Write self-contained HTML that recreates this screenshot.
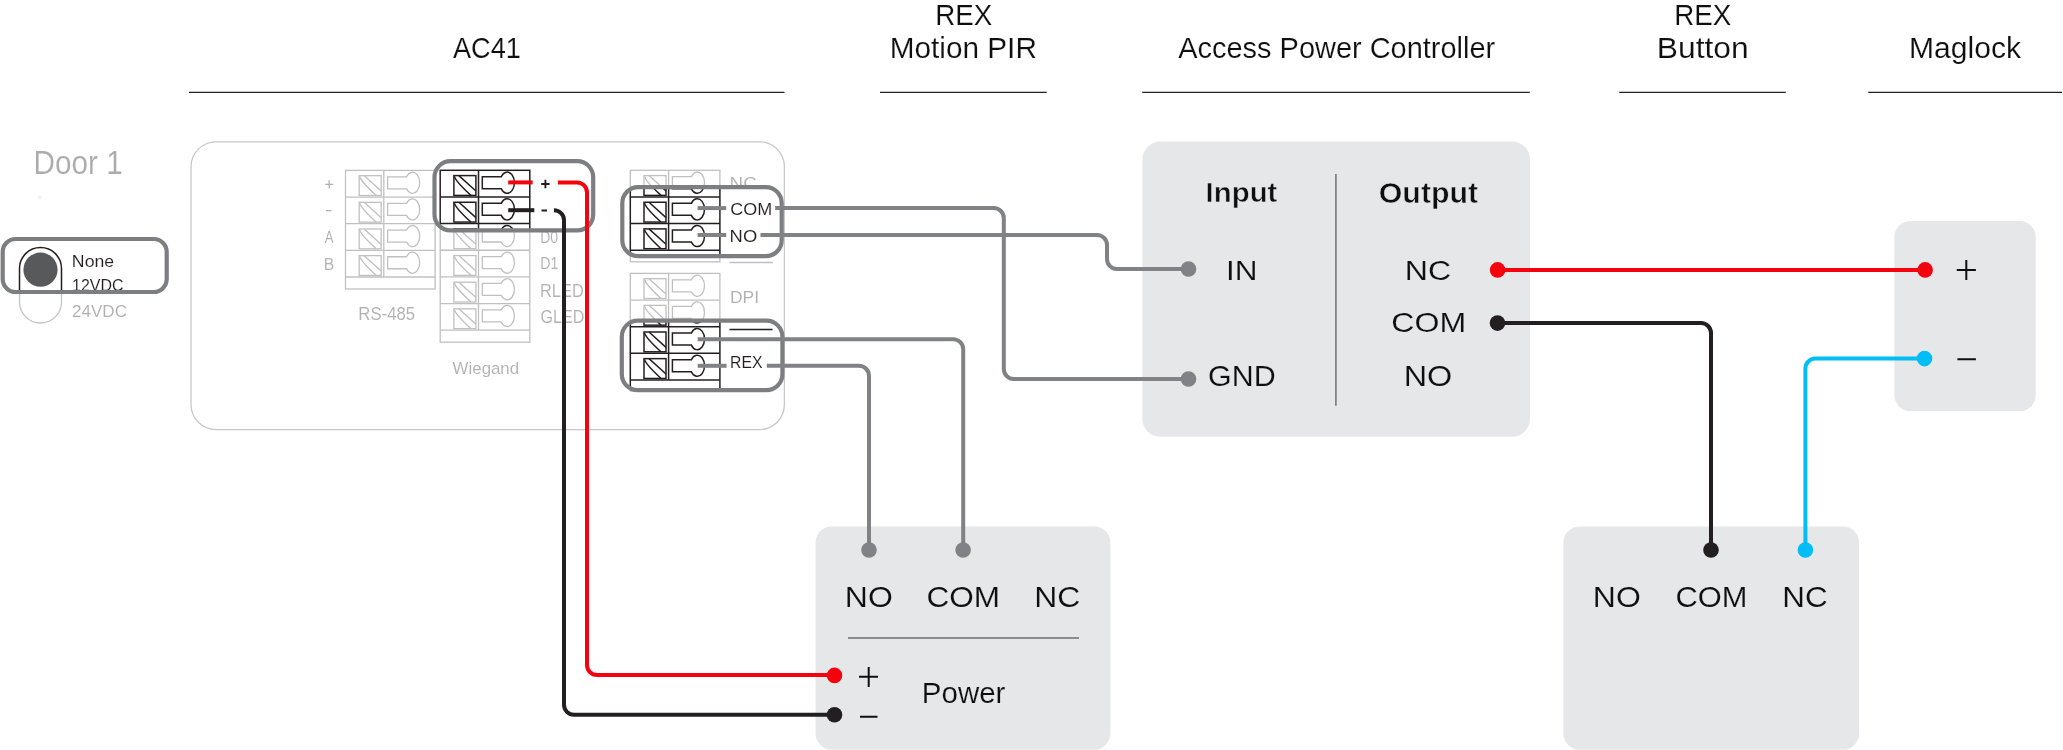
<!DOCTYPE html><html><head><meta charset="utf-8"><style>html,body{margin:0;padding:0;background:#fff;}svg{display:block;will-change:transform;}</style></head><body>
<svg width="2063" height="750" viewBox="0 0 2063 750" font-family='"Liberation Sans", sans-serif'>
<defs><clipPath id="hl"><rect x="2.7" y="239" width="164.00" height="53.00" rx="13"/><rect x="434.5" y="161.2" width="158.70" height="69.20" rx="16"/><rect x="622.3" y="187.1" width="159.40" height="69.10" rx="16"/><rect x="621.8" y="320.7" width="160.60" height="69.50" rx="16"/></clipPath></defs>
<rect width="2063" height="750" fill="#fff"/>
<text x="453.00" y="58.10" font-size="30.00" fill="#0f0f0f" font-weight="normal" textLength="67.86" lengthAdjust="spacingAndGlyphs" stroke="#fff" stroke-width="0.15">AC41</text>
<text x="935.18" y="25.00" font-size="29.71" fill="#0f0f0f" font-weight="normal" textLength="57.01" lengthAdjust="spacingAndGlyphs" stroke="#fff" stroke-width="0.15">REX</text>
<text x="889.72" y="57.90" font-size="29.86" fill="#0f0f0f" font-weight="normal" textLength="147.16" lengthAdjust="spacingAndGlyphs" stroke="#fff" stroke-width="0.15">Motion PIR</text>
<text x="1178.20" y="58.00" font-size="29.13" fill="#0f0f0f" font-weight="normal" textLength="317.04" lengthAdjust="spacingAndGlyphs" stroke="#fff" stroke-width="0.15">Access Power Controller</text>
<text x="1674.28" y="24.80" font-size="28.99" fill="#0f0f0f" font-weight="normal" textLength="57.01" lengthAdjust="spacingAndGlyphs" stroke="#fff" stroke-width="0.14">REX</text>
<text x="1656.86" y="57.80" font-size="28.99" fill="#0f0f0f" font-weight="normal" textLength="91.84" lengthAdjust="spacingAndGlyphs" stroke="#fff" stroke-width="0.14">Button</text>
<text x="1908.99" y="57.80" font-size="28.99" fill="#0f0f0f" font-weight="normal" textLength="111.97" lengthAdjust="spacingAndGlyphs" stroke="#fff" stroke-width="0.14">Maglock</text>
<line x1="189" y1="92.4" x2="784.5" y2="92.4" stroke="#231f20" stroke-width="1.3"/>
<line x1="880" y1="92.4" x2="1046.7" y2="92.4" stroke="#231f20" stroke-width="1.3"/>
<line x1="1142.2" y1="92.4" x2="1529.8" y2="92.4" stroke="#231f20" stroke-width="1.3"/>
<line x1="1619.3" y1="92.4" x2="1785.8" y2="92.4" stroke="#231f20" stroke-width="1.3"/>
<line x1="1868.3" y1="92.4" x2="2062" y2="92.4" stroke="#231f20" stroke-width="1.3"/>
<text x="33.52" y="173.60" font-size="32.75" fill="#acacac" font-weight="normal" textLength="89.16" lengthAdjust="spacingAndGlyphs" stroke="#fff" stroke-width="0.15">Door 1</text>
<rect x="191" y="141.8" width="593.4" height="287.8" rx="25" fill="none" stroke="#c8c8c8" stroke-width="1.3"/>
<g><rect x="19.5" y="247.5" width="42" height="75.5" rx="21" fill="none" stroke="#c4c4c4" stroke-width="1.3"/>
<rect x="345.5" y="170.4" width="89.6" height="118.60" fill="none" stroke="#c0c0c0" stroke-width="1.3"/>
<line x1="345.5" y1="197.05" x2="435.1" y2="197.05" stroke="#c0c0c0" stroke-width="1.3"/>
<line x1="345.5" y1="223.70" x2="435.1" y2="223.70" stroke="#c0c0c0" stroke-width="1.3"/>
<line x1="345.5" y1="250.35" x2="435.1" y2="250.35" stroke="#c0c0c0" stroke-width="1.3"/>
<line x1="345.5" y1="277.00" x2="435.1" y2="277.00" stroke="#c0c0c0" stroke-width="1.3"/>
<line x1="383.80" y1="170.4" x2="383.80" y2="277.00" stroke="#c0c0c0" stroke-width="1.3"/>
<rect x="359.20" y="175.70" width="22" height="19.8" fill="none" stroke="#c0c0c0" stroke-width="1.3"/>
<path d="M364.20,175.70 L381.20,191.10 M359.70,176.50 Q360.70,181.20 376.20,195.50" fill="none" stroke="#c0c0c0" stroke-width="1.3"/>
<path d="M387.60,176.80 H406.57 A7.2,10.6 0 1 1 406.57,188.80 H387.60 Z" fill="none" stroke="#c0c0c0" stroke-width="1.3"/>
<rect x="359.20" y="202.35" width="22" height="19.8" fill="none" stroke="#c0c0c0" stroke-width="1.3"/>
<path d="M364.20,202.35 L381.20,217.75 M359.70,203.15 Q360.70,207.85 376.20,222.15" fill="none" stroke="#c0c0c0" stroke-width="1.3"/>
<path d="M387.60,203.45 H406.57 A7.2,10.6 0 1 1 406.57,215.45 H387.60 Z" fill="none" stroke="#c0c0c0" stroke-width="1.3"/>
<rect x="359.20" y="229.00" width="22" height="19.8" fill="none" stroke="#c0c0c0" stroke-width="1.3"/>
<path d="M364.20,229.00 L381.20,244.40 M359.70,229.80 Q360.70,234.50 376.20,248.80" fill="none" stroke="#c0c0c0" stroke-width="1.3"/>
<path d="M387.60,230.10 H406.57 A7.2,10.6 0 1 1 406.57,242.10 H387.60 Z" fill="none" stroke="#c0c0c0" stroke-width="1.3"/>
<rect x="359.20" y="255.65" width="22" height="19.8" fill="none" stroke="#c0c0c0" stroke-width="1.3"/>
<path d="M364.20,255.65 L381.20,271.05 M359.70,256.45 Q360.70,261.15 376.20,275.45" fill="none" stroke="#c0c0c0" stroke-width="1.3"/>
<path d="M387.60,256.75 H406.57 A7.2,10.6 0 1 1 406.57,268.75 H387.60 Z" fill="none" stroke="#c0c0c0" stroke-width="1.3"/>
<rect x="440.2" y="170.3" width="89.6" height="171.90" fill="none" stroke="#c0c0c0" stroke-width="1.3"/>
<line x1="440.2" y1="196.95" x2="529.8" y2="196.95" stroke="#c0c0c0" stroke-width="1.3"/>
<line x1="440.2" y1="223.60" x2="529.8" y2="223.60" stroke="#c0c0c0" stroke-width="1.3"/>
<line x1="440.2" y1="250.25" x2="529.8" y2="250.25" stroke="#c0c0c0" stroke-width="1.3"/>
<line x1="440.2" y1="276.90" x2="529.8" y2="276.90" stroke="#c0c0c0" stroke-width="1.3"/>
<line x1="440.2" y1="303.55" x2="529.8" y2="303.55" stroke="#c0c0c0" stroke-width="1.3"/>
<line x1="440.2" y1="330.20" x2="529.8" y2="330.20" stroke="#c0c0c0" stroke-width="1.3"/>
<line x1="478.50" y1="170.3" x2="478.50" y2="330.20" stroke="#c0c0c0" stroke-width="1.3"/>
<rect x="453.90" y="175.60" width="22" height="19.8" fill="none" stroke="#c0c0c0" stroke-width="1.3"/>
<path d="M458.90,175.60 L475.90,191.00 M454.40,176.40 Q455.40,181.10 470.90,195.40" fill="none" stroke="#c0c0c0" stroke-width="1.3"/>
<path d="M482.30,176.70 H501.27 A7.2,10.6 0 1 1 501.27,188.70 H482.30 Z" fill="none" stroke="#c0c0c0" stroke-width="1.3"/>
<rect x="453.90" y="202.25" width="22" height="19.8" fill="none" stroke="#c0c0c0" stroke-width="1.3"/>
<path d="M458.90,202.25 L475.90,217.65 M454.40,203.05 Q455.40,207.75 470.90,222.05" fill="none" stroke="#c0c0c0" stroke-width="1.3"/>
<path d="M482.30,203.35 H501.27 A7.2,10.6 0 1 1 501.27,215.35 H482.30 Z" fill="none" stroke="#c0c0c0" stroke-width="1.3"/>
<rect x="453.90" y="228.90" width="22" height="19.8" fill="none" stroke="#c0c0c0" stroke-width="1.3"/>
<path d="M458.90,228.90 L475.90,244.30 M454.40,229.70 Q455.40,234.40 470.90,248.70" fill="none" stroke="#c0c0c0" stroke-width="1.3"/>
<path d="M482.30,230.00 H501.27 A7.2,10.6 0 1 1 501.27,242.00 H482.30 Z" fill="none" stroke="#c0c0c0" stroke-width="1.3"/>
<rect x="453.90" y="255.55" width="22" height="19.8" fill="none" stroke="#c0c0c0" stroke-width="1.3"/>
<path d="M458.90,255.55 L475.90,270.95 M454.40,256.35 Q455.40,261.05 470.90,275.35" fill="none" stroke="#c0c0c0" stroke-width="1.3"/>
<path d="M482.30,256.65 H501.27 A7.2,10.6 0 1 1 501.27,268.65 H482.30 Z" fill="none" stroke="#c0c0c0" stroke-width="1.3"/>
<rect x="453.90" y="282.20" width="22" height="19.8" fill="none" stroke="#c0c0c0" stroke-width="1.3"/>
<path d="M458.90,282.20 L475.90,297.60 M454.40,283.00 Q455.40,287.70 470.90,302.00" fill="none" stroke="#c0c0c0" stroke-width="1.3"/>
<path d="M482.30,283.30 H501.27 A7.2,10.6 0 1 1 501.27,295.30 H482.30 Z" fill="none" stroke="#c0c0c0" stroke-width="1.3"/>
<rect x="453.90" y="308.85" width="22" height="19.8" fill="none" stroke="#c0c0c0" stroke-width="1.3"/>
<path d="M458.90,308.85 L475.90,324.25 M454.40,309.65 Q455.40,314.35 470.90,328.65" fill="none" stroke="#c0c0c0" stroke-width="1.3"/>
<path d="M482.30,309.95 H501.27 A7.2,10.6 0 1 1 501.27,321.95 H482.30 Z" fill="none" stroke="#c0c0c0" stroke-width="1.3"/>
<rect x="630.3" y="170.3" width="89.6" height="91.55" fill="none" stroke="#c0c0c0" stroke-width="1.3"/>
<line x1="630.3" y1="196.95" x2="719.9" y2="196.95" stroke="#c0c0c0" stroke-width="1.3"/>
<line x1="630.3" y1="223.60" x2="719.9" y2="223.60" stroke="#c0c0c0" stroke-width="1.3"/>
<line x1="630.3" y1="250.25" x2="719.9" y2="250.25" stroke="#c0c0c0" stroke-width="1.3"/>
<line x1="668.60" y1="170.3" x2="668.60" y2="250.25" stroke="#c0c0c0" stroke-width="1.3"/>
<rect x="644.00" y="175.60" width="22" height="19.8" fill="none" stroke="#c0c0c0" stroke-width="1.3"/>
<path d="M649.00,175.60 L666.00,191.00 M644.50,176.40 Q645.50,181.10 661.00,195.40" fill="none" stroke="#c0c0c0" stroke-width="1.3"/>
<path d="M672.40,176.70 H691.37 A7.2,10.6 0 1 1 691.37,188.70 H672.40 Z" fill="none" stroke="#c0c0c0" stroke-width="1.3"/>
<rect x="644.00" y="202.25" width="22" height="19.8" fill="none" stroke="#c0c0c0" stroke-width="1.3"/>
<path d="M649.00,202.25 L666.00,217.65 M644.50,203.05 Q645.50,207.75 661.00,222.05" fill="none" stroke="#c0c0c0" stroke-width="1.3"/>
<path d="M672.40,203.35 H691.37 A7.2,10.6 0 1 1 691.37,215.35 H672.40 Z" fill="none" stroke="#c0c0c0" stroke-width="1.3"/>
<rect x="644.00" y="228.90" width="22" height="19.8" fill="none" stroke="#c0c0c0" stroke-width="1.3"/>
<path d="M649.00,228.90 L666.00,244.30 M644.50,229.70 Q645.50,234.40 661.00,248.70" fill="none" stroke="#c0c0c0" stroke-width="1.3"/>
<path d="M672.40,230.00 H691.37 A7.2,10.6 0 1 1 691.37,242.00 H672.40 Z" fill="none" stroke="#c0c0c0" stroke-width="1.3"/>
<rect x="630.3" y="273.4" width="89.6" height="117.60" fill="none" stroke="#c0c0c0" stroke-width="1.3"/>
<line x1="630.3" y1="300.05" x2="719.9" y2="300.05" stroke="#c0c0c0" stroke-width="1.3"/>
<line x1="630.3" y1="326.70" x2="719.9" y2="326.70" stroke="#c0c0c0" stroke-width="1.3"/>
<line x1="630.3" y1="353.35" x2="719.9" y2="353.35" stroke="#c0c0c0" stroke-width="1.3"/>
<line x1="630.3" y1="380.00" x2="719.9" y2="380.00" stroke="#c0c0c0" stroke-width="1.3"/>
<line x1="668.60" y1="273.4" x2="668.60" y2="380.00" stroke="#c0c0c0" stroke-width="1.3"/>
<rect x="644.00" y="278.70" width="22" height="19.8" fill="none" stroke="#c0c0c0" stroke-width="1.3"/>
<path d="M649.00,278.70 L666.00,294.10 M644.50,279.50 Q645.50,284.20 661.00,298.50" fill="none" stroke="#c0c0c0" stroke-width="1.3"/>
<path d="M672.40,279.80 H691.37 A7.2,10.6 0 1 1 691.37,291.80 H672.40 Z" fill="none" stroke="#c0c0c0" stroke-width="1.3"/>
<rect x="644.00" y="305.35" width="22" height="19.8" fill="none" stroke="#c0c0c0" stroke-width="1.3"/>
<path d="M649.00,305.35 L666.00,320.75 M644.50,306.15 Q645.50,310.85 661.00,325.15" fill="none" stroke="#c0c0c0" stroke-width="1.3"/>
<path d="M672.40,306.45 H691.37 A7.2,10.6 0 1 1 691.37,318.45 H672.40 Z" fill="none" stroke="#c0c0c0" stroke-width="1.3"/>
<rect x="644.00" y="332.00" width="22" height="19.8" fill="none" stroke="#c0c0c0" stroke-width="1.3"/>
<path d="M649.00,332.00 L666.00,347.40 M644.50,332.80 Q645.50,337.50 661.00,351.80" fill="none" stroke="#c0c0c0" stroke-width="1.3"/>
<path d="M672.40,333.10 H691.37 A7.2,10.6 0 1 1 691.37,345.10 H672.40 Z" fill="none" stroke="#c0c0c0" stroke-width="1.3"/>
<rect x="644.00" y="358.65" width="22" height="19.8" fill="none" stroke="#c0c0c0" stroke-width="1.3"/>
<path d="M649.00,358.65 L666.00,374.05 M644.50,359.45 Q645.50,364.15 661.00,378.45" fill="none" stroke="#c0c0c0" stroke-width="1.3"/>
<path d="M672.40,359.75 H691.37 A7.2,10.6 0 1 1 691.37,371.75 H672.40 Z" fill="none" stroke="#c0c0c0" stroke-width="1.3"/>
<line x1="729.5" y1="262.5" x2="773" y2="262.5" stroke="#c0c0c0" stroke-width="1.3"/>
<line x1="729.5" y1="329.6" x2="772.5" y2="329.6" stroke="#c0c0c0" stroke-width="1.3"/><text x="71.89" y="266.70" font-size="17.39" fill="#b0b0b0" font-weight="normal" textLength="42.22" lengthAdjust="spacingAndGlyphs" stroke="#fff" stroke-width="0.09">None</text>
<text x="72.10" y="291.30" font-size="17.39" fill="#b0b0b0" font-weight="normal" textLength="51.41" lengthAdjust="spacingAndGlyphs" stroke="#fff" stroke-width="0.09">12VDC</text>
<text x="72.05" y="316.70" font-size="16.52" fill="#b0b0b0" font-weight="normal" textLength="54.91" lengthAdjust="spacingAndGlyphs" stroke="#fff" stroke-width="0.08">24VDC</text>
<text x="324.80" y="243.20" font-size="17.39" fill="#b0b0b0" font-weight="normal" textLength="8.83" lengthAdjust="spacingAndGlyphs" stroke="#fff" stroke-width="0.09">A</text>
<text x="323.74" y="269.60" font-size="16.81" fill="#b0b0b0" font-weight="normal" textLength="10.47" lengthAdjust="spacingAndGlyphs" stroke="#fff" stroke-width="0.08">B</text>
<text x="358.36" y="319.70" font-size="17.97" fill="#b0b0b0" font-weight="normal" textLength="56.72" lengthAdjust="spacingAndGlyphs" stroke="#fff" stroke-width="0.09">RS-485</text>
<text x="452.62" y="374.20" font-size="17.10" fill="#b0b0b0" font-weight="normal" textLength="66.51" lengthAdjust="spacingAndGlyphs" stroke="#fff" stroke-width="0.09">Wiegand</text>
<text x="540.18" y="243.00" font-size="17.39" fill="#b0b0b0" font-weight="normal" textLength="17.96" lengthAdjust="spacingAndGlyphs" stroke="#fff" stroke-width="0.09">D0</text>
<text x="540.17" y="269.40" font-size="17.39" fill="#b0b0b0" font-weight="normal" textLength="18.12" lengthAdjust="spacingAndGlyphs" stroke="#fff" stroke-width="0.09">D1</text>
<text x="539.99" y="296.60" font-size="17.97" fill="#b0b0b0" font-weight="normal" textLength="43.79" lengthAdjust="spacingAndGlyphs" stroke="#fff" stroke-width="0.09">RLED</text>
<text x="540.50" y="323.00" font-size="17.83" fill="#b0b0b0" font-weight="normal" textLength="43.78" lengthAdjust="spacingAndGlyphs" stroke="#fff" stroke-width="0.09">GLED</text>
<text x="729.60" y="189.00" font-size="16.52" fill="#b0b0b0" font-weight="normal" textLength="27.14" lengthAdjust="spacingAndGlyphs" stroke="#fff" stroke-width="0.08">NC</text>
<text x="730.20" y="215.40" font-size="16.23" fill="#b0b0b0" font-weight="normal" textLength="41.99" lengthAdjust="spacingAndGlyphs" stroke="#fff" stroke-width="0.08">COM</text>
<text x="729.63" y="242.20" font-size="16.23" fill="#b0b0b0" font-weight="normal" textLength="27.59" lengthAdjust="spacingAndGlyphs" stroke="#fff" stroke-width="0.08">NO</text>
<text x="729.90" y="302.90" font-size="16.23" fill="#b0b0b0" font-weight="normal" textLength="29.10" lengthAdjust="spacingAndGlyphs" stroke="#fff" stroke-width="0.08">DPI</text>
<text x="730.04" y="367.90" font-size="16.23" fill="#b0b0b0" font-weight="normal" textLength="32.40" lengthAdjust="spacingAndGlyphs" stroke="#fff" stroke-width="0.08">REX</text>
<path d="M325.2,184.3 H333.2 M329.2,180.3 V188.3 M326,210.6 H331.5" stroke="#b0b0b0" stroke-width="1.3" fill="none"/>
<path d="M541.2,184 H549.6 M545.4,179.8 V188.2 M541.5,210.5 H547" stroke="#b0b0b0" stroke-width="1.9" fill="none"/></g>
<g clip-path="url(#hl)"><rect x="0" y="150" width="800" height="260" fill="#fff"/><rect x="19.5" y="247.5" width="42" height="75.5" rx="21" fill="none" stroke="#231f20" stroke-width="1.5"/>
<rect x="345.5" y="170.4" width="89.6" height="118.60" fill="none" stroke="#231f20" stroke-width="1.5"/>
<line x1="345.5" y1="197.05" x2="435.1" y2="197.05" stroke="#231f20" stroke-width="1.5"/>
<line x1="345.5" y1="223.70" x2="435.1" y2="223.70" stroke="#231f20" stroke-width="1.5"/>
<line x1="345.5" y1="250.35" x2="435.1" y2="250.35" stroke="#231f20" stroke-width="1.5"/>
<line x1="345.5" y1="277.00" x2="435.1" y2="277.00" stroke="#231f20" stroke-width="1.5"/>
<line x1="383.80" y1="170.4" x2="383.80" y2="277.00" stroke="#231f20" stroke-width="1.5"/>
<rect x="359.20" y="175.70" width="22" height="19.8" fill="none" stroke="#231f20" stroke-width="1.5"/>
<path d="M364.20,175.70 L381.20,191.10 M359.70,176.50 Q360.70,181.20 376.20,195.50" fill="none" stroke="#231f20" stroke-width="1.5"/>
<path d="M387.60,176.80 H406.57 A7.2,10.6 0 1 1 406.57,188.80 H387.60 Z" fill="none" stroke="#231f20" stroke-width="1.5"/>
<rect x="359.20" y="202.35" width="22" height="19.8" fill="none" stroke="#231f20" stroke-width="1.5"/>
<path d="M364.20,202.35 L381.20,217.75 M359.70,203.15 Q360.70,207.85 376.20,222.15" fill="none" stroke="#231f20" stroke-width="1.5"/>
<path d="M387.60,203.45 H406.57 A7.2,10.6 0 1 1 406.57,215.45 H387.60 Z" fill="none" stroke="#231f20" stroke-width="1.5"/>
<rect x="359.20" y="229.00" width="22" height="19.8" fill="none" stroke="#231f20" stroke-width="1.5"/>
<path d="M364.20,229.00 L381.20,244.40 M359.70,229.80 Q360.70,234.50 376.20,248.80" fill="none" stroke="#231f20" stroke-width="1.5"/>
<path d="M387.60,230.10 H406.57 A7.2,10.6 0 1 1 406.57,242.10 H387.60 Z" fill="none" stroke="#231f20" stroke-width="1.5"/>
<rect x="359.20" y="255.65" width="22" height="19.8" fill="none" stroke="#231f20" stroke-width="1.5"/>
<path d="M364.20,255.65 L381.20,271.05 M359.70,256.45 Q360.70,261.15 376.20,275.45" fill="none" stroke="#231f20" stroke-width="1.5"/>
<path d="M387.60,256.75 H406.57 A7.2,10.6 0 1 1 406.57,268.75 H387.60 Z" fill="none" stroke="#231f20" stroke-width="1.5"/>
<rect x="440.2" y="170.3" width="89.6" height="171.90" fill="none" stroke="#231f20" stroke-width="1.5"/>
<line x1="440.2" y1="196.95" x2="529.8" y2="196.95" stroke="#231f20" stroke-width="1.5"/>
<line x1="440.2" y1="223.60" x2="529.8" y2="223.60" stroke="#231f20" stroke-width="1.5"/>
<line x1="440.2" y1="250.25" x2="529.8" y2="250.25" stroke="#231f20" stroke-width="1.5"/>
<line x1="440.2" y1="276.90" x2="529.8" y2="276.90" stroke="#231f20" stroke-width="1.5"/>
<line x1="440.2" y1="303.55" x2="529.8" y2="303.55" stroke="#231f20" stroke-width="1.5"/>
<line x1="440.2" y1="330.20" x2="529.8" y2="330.20" stroke="#231f20" stroke-width="1.5"/>
<line x1="478.50" y1="170.3" x2="478.50" y2="330.20" stroke="#231f20" stroke-width="1.5"/>
<rect x="453.90" y="175.60" width="22" height="19.8" fill="none" stroke="#231f20" stroke-width="1.5"/>
<path d="M458.90,175.60 L475.90,191.00 M454.40,176.40 Q455.40,181.10 470.90,195.40" fill="none" stroke="#231f20" stroke-width="1.5"/>
<path d="M482.30,176.70 H501.27 A7.2,10.6 0 1 1 501.27,188.70 H482.30 Z" fill="none" stroke="#231f20" stroke-width="1.5"/>
<rect x="453.90" y="202.25" width="22" height="19.8" fill="none" stroke="#231f20" stroke-width="1.5"/>
<path d="M458.90,202.25 L475.90,217.65 M454.40,203.05 Q455.40,207.75 470.90,222.05" fill="none" stroke="#231f20" stroke-width="1.5"/>
<path d="M482.30,203.35 H501.27 A7.2,10.6 0 1 1 501.27,215.35 H482.30 Z" fill="none" stroke="#231f20" stroke-width="1.5"/>
<rect x="453.90" y="228.90" width="22" height="19.8" fill="none" stroke="#231f20" stroke-width="1.5"/>
<path d="M458.90,228.90 L475.90,244.30 M454.40,229.70 Q455.40,234.40 470.90,248.70" fill="none" stroke="#231f20" stroke-width="1.5"/>
<path d="M482.30,230.00 H501.27 A7.2,10.6 0 1 1 501.27,242.00 H482.30 Z" fill="none" stroke="#231f20" stroke-width="1.5"/>
<rect x="453.90" y="255.55" width="22" height="19.8" fill="none" stroke="#231f20" stroke-width="1.5"/>
<path d="M458.90,255.55 L475.90,270.95 M454.40,256.35 Q455.40,261.05 470.90,275.35" fill="none" stroke="#231f20" stroke-width="1.5"/>
<path d="M482.30,256.65 H501.27 A7.2,10.6 0 1 1 501.27,268.65 H482.30 Z" fill="none" stroke="#231f20" stroke-width="1.5"/>
<rect x="453.90" y="282.20" width="22" height="19.8" fill="none" stroke="#231f20" stroke-width="1.5"/>
<path d="M458.90,282.20 L475.90,297.60 M454.40,283.00 Q455.40,287.70 470.90,302.00" fill="none" stroke="#231f20" stroke-width="1.5"/>
<path d="M482.30,283.30 H501.27 A7.2,10.6 0 1 1 501.27,295.30 H482.30 Z" fill="none" stroke="#231f20" stroke-width="1.5"/>
<rect x="453.90" y="308.85" width="22" height="19.8" fill="none" stroke="#231f20" stroke-width="1.5"/>
<path d="M458.90,308.85 L475.90,324.25 M454.40,309.65 Q455.40,314.35 470.90,328.65" fill="none" stroke="#231f20" stroke-width="1.5"/>
<path d="M482.30,309.95 H501.27 A7.2,10.6 0 1 1 501.27,321.95 H482.30 Z" fill="none" stroke="#231f20" stroke-width="1.5"/>
<rect x="630.3" y="170.3" width="89.6" height="91.55" fill="none" stroke="#231f20" stroke-width="1.5"/>
<line x1="630.3" y1="196.95" x2="719.9" y2="196.95" stroke="#231f20" stroke-width="1.5"/>
<line x1="630.3" y1="223.60" x2="719.9" y2="223.60" stroke="#231f20" stroke-width="1.5"/>
<line x1="630.3" y1="250.25" x2="719.9" y2="250.25" stroke="#231f20" stroke-width="1.5"/>
<line x1="668.60" y1="170.3" x2="668.60" y2="250.25" stroke="#231f20" stroke-width="1.5"/>
<rect x="644.00" y="175.60" width="22" height="19.8" fill="none" stroke="#231f20" stroke-width="1.5"/>
<path d="M649.00,175.60 L666.00,191.00 M644.50,176.40 Q645.50,181.10 661.00,195.40" fill="none" stroke="#231f20" stroke-width="1.5"/>
<path d="M672.40,176.70 H691.37 A7.2,10.6 0 1 1 691.37,188.70 H672.40 Z" fill="none" stroke="#231f20" stroke-width="1.5"/>
<rect x="644.00" y="202.25" width="22" height="19.8" fill="none" stroke="#231f20" stroke-width="1.5"/>
<path d="M649.00,202.25 L666.00,217.65 M644.50,203.05 Q645.50,207.75 661.00,222.05" fill="none" stroke="#231f20" stroke-width="1.5"/>
<path d="M672.40,203.35 H691.37 A7.2,10.6 0 1 1 691.37,215.35 H672.40 Z" fill="none" stroke="#231f20" stroke-width="1.5"/>
<rect x="644.00" y="228.90" width="22" height="19.8" fill="none" stroke="#231f20" stroke-width="1.5"/>
<path d="M649.00,228.90 L666.00,244.30 M644.50,229.70 Q645.50,234.40 661.00,248.70" fill="none" stroke="#231f20" stroke-width="1.5"/>
<path d="M672.40,230.00 H691.37 A7.2,10.6 0 1 1 691.37,242.00 H672.40 Z" fill="none" stroke="#231f20" stroke-width="1.5"/>
<rect x="630.3" y="273.4" width="89.6" height="117.60" fill="none" stroke="#231f20" stroke-width="1.5"/>
<line x1="630.3" y1="300.05" x2="719.9" y2="300.05" stroke="#231f20" stroke-width="1.5"/>
<line x1="630.3" y1="326.70" x2="719.9" y2="326.70" stroke="#231f20" stroke-width="1.5"/>
<line x1="630.3" y1="353.35" x2="719.9" y2="353.35" stroke="#231f20" stroke-width="1.5"/>
<line x1="630.3" y1="380.00" x2="719.9" y2="380.00" stroke="#231f20" stroke-width="1.5"/>
<line x1="668.60" y1="273.4" x2="668.60" y2="380.00" stroke="#231f20" stroke-width="1.5"/>
<rect x="644.00" y="278.70" width="22" height="19.8" fill="none" stroke="#231f20" stroke-width="1.5"/>
<path d="M649.00,278.70 L666.00,294.10 M644.50,279.50 Q645.50,284.20 661.00,298.50" fill="none" stroke="#231f20" stroke-width="1.5"/>
<path d="M672.40,279.80 H691.37 A7.2,10.6 0 1 1 691.37,291.80 H672.40 Z" fill="none" stroke="#231f20" stroke-width="1.5"/>
<rect x="644.00" y="305.35" width="22" height="19.8" fill="none" stroke="#231f20" stroke-width="1.5"/>
<path d="M649.00,305.35 L666.00,320.75 M644.50,306.15 Q645.50,310.85 661.00,325.15" fill="none" stroke="#231f20" stroke-width="1.5"/>
<path d="M672.40,306.45 H691.37 A7.2,10.6 0 1 1 691.37,318.45 H672.40 Z" fill="none" stroke="#231f20" stroke-width="1.5"/>
<rect x="644.00" y="332.00" width="22" height="19.8" fill="none" stroke="#231f20" stroke-width="1.5"/>
<path d="M649.00,332.00 L666.00,347.40 M644.50,332.80 Q645.50,337.50 661.00,351.80" fill="none" stroke="#231f20" stroke-width="1.5"/>
<path d="M672.40,333.10 H691.37 A7.2,10.6 0 1 1 691.37,345.10 H672.40 Z" fill="none" stroke="#231f20" stroke-width="1.5"/>
<rect x="644.00" y="358.65" width="22" height="19.8" fill="none" stroke="#231f20" stroke-width="1.5"/>
<path d="M649.00,358.65 L666.00,374.05 M644.50,359.45 Q645.50,364.15 661.00,378.45" fill="none" stroke="#231f20" stroke-width="1.5"/>
<path d="M672.40,359.75 H691.37 A7.2,10.6 0 1 1 691.37,371.75 H672.40 Z" fill="none" stroke="#231f20" stroke-width="1.5"/>
<line x1="729.5" y1="262.5" x2="773" y2="262.5" stroke="#231f20" stroke-width="1.5"/>
<line x1="729.5" y1="329.6" x2="772.5" y2="329.6" stroke="#231f20" stroke-width="1.5"/><text x="71.89" y="266.70" font-size="17.39" fill="#231f20" font-weight="normal" textLength="42.22" lengthAdjust="spacingAndGlyphs" stroke="#fff" stroke-width="0.09">None</text>
<text x="72.10" y="291.30" font-size="17.39" fill="#231f20" font-weight="normal" textLength="51.41" lengthAdjust="spacingAndGlyphs" stroke="#fff" stroke-width="0.09">12VDC</text>
<text x="72.05" y="316.70" font-size="16.52" fill="#231f20" font-weight="normal" textLength="54.91" lengthAdjust="spacingAndGlyphs" stroke="#fff" stroke-width="0.08">24VDC</text>
<text x="324.80" y="243.20" font-size="17.39" fill="#231f20" font-weight="normal" textLength="8.83" lengthAdjust="spacingAndGlyphs" stroke="#fff" stroke-width="0.09">A</text>
<text x="323.74" y="269.60" font-size="16.81" fill="#231f20" font-weight="normal" textLength="10.47" lengthAdjust="spacingAndGlyphs" stroke="#fff" stroke-width="0.08">B</text>
<text x="358.36" y="319.70" font-size="17.97" fill="#231f20" font-weight="normal" textLength="56.72" lengthAdjust="spacingAndGlyphs" stroke="#fff" stroke-width="0.09">RS-485</text>
<text x="452.62" y="374.20" font-size="17.10" fill="#231f20" font-weight="normal" textLength="66.51" lengthAdjust="spacingAndGlyphs" stroke="#fff" stroke-width="0.09">Wiegand</text>
<text x="540.18" y="243.00" font-size="17.39" fill="#231f20" font-weight="normal" textLength="17.96" lengthAdjust="spacingAndGlyphs" stroke="#fff" stroke-width="0.09">D0</text>
<text x="540.17" y="269.40" font-size="17.39" fill="#231f20" font-weight="normal" textLength="18.12" lengthAdjust="spacingAndGlyphs" stroke="#fff" stroke-width="0.09">D1</text>
<text x="539.99" y="296.60" font-size="17.97" fill="#231f20" font-weight="normal" textLength="43.79" lengthAdjust="spacingAndGlyphs" stroke="#fff" stroke-width="0.09">RLED</text>
<text x="540.50" y="323.00" font-size="17.83" fill="#231f20" font-weight="normal" textLength="43.78" lengthAdjust="spacingAndGlyphs" stroke="#fff" stroke-width="0.09">GLED</text>
<text x="729.60" y="189.00" font-size="16.52" fill="#231f20" font-weight="normal" textLength="27.14" lengthAdjust="spacingAndGlyphs" stroke="#fff" stroke-width="0.08">NC</text>
<text x="730.20" y="215.40" font-size="16.23" fill="#231f20" font-weight="normal" textLength="41.99" lengthAdjust="spacingAndGlyphs" stroke="#fff" stroke-width="0.08">COM</text>
<text x="729.63" y="242.20" font-size="16.23" fill="#231f20" font-weight="normal" textLength="27.59" lengthAdjust="spacingAndGlyphs" stroke="#fff" stroke-width="0.08">NO</text>
<text x="729.90" y="302.90" font-size="16.23" fill="#231f20" font-weight="normal" textLength="29.10" lengthAdjust="spacingAndGlyphs" stroke="#fff" stroke-width="0.08">DPI</text>
<text x="730.04" y="367.90" font-size="16.23" fill="#231f20" font-weight="normal" textLength="32.40" lengthAdjust="spacingAndGlyphs" stroke="#fff" stroke-width="0.08">REX</text>
<path d="M325.2,184.3 H333.2 M329.2,180.3 V188.3 M326,210.6 H331.5" stroke="#231f20" stroke-width="1.3" fill="none"/>
<path d="M541.2,184 H549.6 M545.4,179.8 V188.2 M541.5,210.5 H547" stroke="#231f20" stroke-width="1.9" fill="none"/></g>
<circle cx="39.6" cy="197.4" r="2.2" fill="#f2f2f2"/>
<circle cx="40.5" cy="269.7" r="17.1" fill="#58595b"/>
<rect x="2.7" y="239" width="164.00" height="53.00" rx="13" fill="none" stroke="#7d7e81" stroke-width="4.2"/>
<rect x="434.5" y="161.2" width="158.70" height="69.20" rx="16" fill="none" stroke="#7d7e81" stroke-width="4.2"/>
<rect x="622.3" y="187.1" width="159.40" height="69.10" rx="16" fill="none" stroke="#7d7e81" stroke-width="4.2"/>
<rect x="621.8" y="320.7" width="160.60" height="69.50" rx="16" fill="none" stroke="#7d7e81" stroke-width="4.2"/>
<rect x="1142.4" y="141.4" width="1387.6" height="0" fill="none"/>
<rect x="1142.4" y="141.4" width="387.6" height="295.4" rx="18" fill="#e6e7e8"/>
<line x1="1335.9" y1="174" x2="1335.9" y2="405.8" stroke="#77787b" stroke-width="1.6"/>
<text x="1205.59" y="202.10" font-size="28.26" fill="#0f0f0f" font-weight="bold" textLength="71.81" lengthAdjust="spacingAndGlyphs" stroke="#e6e7e8" stroke-width="0.50">Input</text>
<text x="1378.79" y="203.00" font-size="29.13" fill="#0f0f0f" font-weight="bold" textLength="99.36" lengthAdjust="spacingAndGlyphs" stroke="#e6e7e8" stroke-width="0.50">Output</text>
<text x="1225.96" y="279.70" font-size="28.55" fill="#0f0f0f" font-weight="normal" textLength="31.57" lengthAdjust="spacingAndGlyphs" stroke="#e6e7e8" stroke-width="0.14">IN</text>
<text x="1208.08" y="386.20" font-size="28.99" fill="#0f0f0f" font-weight="normal" textLength="67.66" lengthAdjust="spacingAndGlyphs" stroke="#e6e7e8" stroke-width="0.14">GND</text>
<text x="1404.83" y="279.50" font-size="28.26" fill="#0f0f0f" font-weight="normal" textLength="46.44" lengthAdjust="spacingAndGlyphs" stroke="#e6e7e8" stroke-width="0.14">NC</text>
<text x="1391.19" y="331.60" font-size="27.97" fill="#0f0f0f" font-weight="normal" textLength="74.98" lengthAdjust="spacingAndGlyphs" stroke="#e6e7e8" stroke-width="0.14">COM</text>
<text x="1403.71" y="385.70" font-size="28.99" fill="#0f0f0f" font-weight="normal" textLength="48.61" lengthAdjust="spacingAndGlyphs" stroke="#e6e7e8" stroke-width="0.14">NO</text>
<rect x="815.6" y="526.6" width="294.8" height="223" rx="16" fill="#e6e7e8"/>
<text x="844.84" y="606.60" font-size="28.70" fill="#0f0f0f" font-weight="normal" textLength="47.96" lengthAdjust="spacingAndGlyphs" stroke="#e6e7e8" stroke-width="0.14">NO</text>
<text x="926.42" y="606.60" font-size="28.70" fill="#0f0f0f" font-weight="normal" textLength="73.60" lengthAdjust="spacingAndGlyphs" stroke="#e6e7e8" stroke-width="0.14">COM</text>
<text x="1034.25" y="606.60" font-size="28.70" fill="#0f0f0f" font-weight="normal" textLength="46.00" lengthAdjust="spacingAndGlyphs" stroke="#e6e7e8" stroke-width="0.14">NC</text>
<line x1="848" y1="638" x2="1079" y2="638" stroke="#6d6e71" stroke-width="1.3"/>
<text x="921.84" y="703.00" font-size="29.28" fill="#0f0f0f" font-weight="normal" textLength="83.54" lengthAdjust="spacingAndGlyphs" stroke="#e6e7e8" stroke-width="0.15">Power</text>
<path d="M859,676.8 H878 M868.7,667 V687 M860,716.8 H877.5" stroke="#0f0f0f" stroke-width="2.0" fill="none"/>
<rect x="1563.4" y="526.6" width="295.7" height="223" rx="16" fill="#e6e7e8"/>
<text x="1592.84" y="606.70" font-size="28.84" fill="#0f0f0f" font-weight="normal" textLength="47.96" lengthAdjust="spacingAndGlyphs" stroke="#e6e7e8" stroke-width="0.14">NO</text>
<text x="1675.46" y="606.70" font-size="28.84" fill="#0f0f0f" font-weight="normal" textLength="72.01" lengthAdjust="spacingAndGlyphs" stroke="#e6e7e8" stroke-width="0.14">COM</text>
<text x="1782.39" y="606.70" font-size="28.84" fill="#0f0f0f" font-weight="normal" textLength="45.35" lengthAdjust="spacingAndGlyphs" stroke="#e6e7e8" stroke-width="0.14">NC</text>
<rect x="1894.4" y="221.1" width="141.3" height="190" rx="16" fill="#e6e7e8"/>
<path d="M1956.8,270.1 H1975.9 M1966.3,260.1 V280.1 M1957.4,359.2 H1975.9" stroke="#0f0f0f" stroke-width="2.0" fill="none"/>
<path d="M508.2,182.4 H532.6" fill="none" stroke="#f5020f" stroke-width="4" stroke-linejoin="round"/>
<path d="M558,182.4 H577 A10,10 0 0 1 587,192.4 V665 A10,10 0 0 0 597,675 H834.5" fill="none" stroke="#f5020f" stroke-width="4" stroke-linejoin="round"/>
<path d="M508.2,210.2 H534.3" fill="none" stroke="#231f20" stroke-width="4" stroke-linejoin="round"/>
<path d="M554,210.2 A10,10 0 0 1 564,220.2 V704.8 A10,10 0 0 0 574,714.8 H834.5" fill="none" stroke="#231f20" stroke-width="4" stroke-linejoin="round"/>
<path d="M697.6,208.1 H726.2" fill="none" stroke="#808285" stroke-width="4" stroke-linejoin="round"/>
<path d="M775.2,208.1 H993.8 A10,10 0 0 1 1003.8,218.1 V369 A10,10 0 0 0 1013.8,379 H1188.5" fill="none" stroke="#808285" stroke-width="4" stroke-linejoin="round"/>
<path d="M697.6,235 H726.2" fill="none" stroke="#808285" stroke-width="4" stroke-linejoin="round"/>
<path d="M760.5,235 H1097 A10,10 0 0 1 1107,245 V259 A10,10 0 0 0 1117,269 H1188.5" fill="none" stroke="#808285" stroke-width="4" stroke-linejoin="round"/>
<path d="M697.7,339.2 H953.2 A10,10 0 0 1 963.2,349.2 V550" fill="none" stroke="#808285" stroke-width="4" stroke-linejoin="round"/>
<path d="M697.7,365.8 H726.6" fill="none" stroke="#808285" stroke-width="4" stroke-linejoin="round"/>
<path d="M766.8,365.8 H859 A10,10 0 0 1 869,375.8 V550" fill="none" stroke="#808285" stroke-width="4" stroke-linejoin="round"/>
<path d="M1497.6,269.9 H1925.1" fill="none" stroke="#f5020f" stroke-width="4" stroke-linejoin="round"/>
<path d="M1497.6,323.1 H1701 A10,10 0 0 1 1711,333.1 V550" fill="none" stroke="#231f20" stroke-width="4" stroke-linejoin="round"/>
<path d="M1805.4,550 V368.6 A10,10 0 0 1 1815.4,358.6 H1924.5" fill="none" stroke="#03bef6" stroke-width="4" stroke-linejoin="round"/>
<circle cx="1188.5" cy="269" r="7.8" fill="#808285"/>
<circle cx="1188.5" cy="379" r="7.8" fill="#808285"/>
<circle cx="869" cy="550" r="7.8" fill="#808285"/>
<circle cx="963.1" cy="550" r="7.8" fill="#808285"/>
<circle cx="834.5" cy="675.4" r="7.8" fill="#f5020f"/>
<circle cx="834.5" cy="714.8" r="7.8" fill="#231f20"/>
<circle cx="1497.6" cy="269.9" r="7.8" fill="#f5020f"/>
<circle cx="1497.5" cy="323.1" r="7.8" fill="#231f20"/>
<circle cx="1711" cy="550" r="7.8" fill="#231f20"/>
<circle cx="1805.4" cy="550" r="7.8" fill="#03bef6"/>
<circle cx="1925.1" cy="269.9" r="7.8" fill="#f5020f"/>
<circle cx="1924.5" cy="358.6" r="7.8" fill="#03bef6"/>
</svg></body></html>
